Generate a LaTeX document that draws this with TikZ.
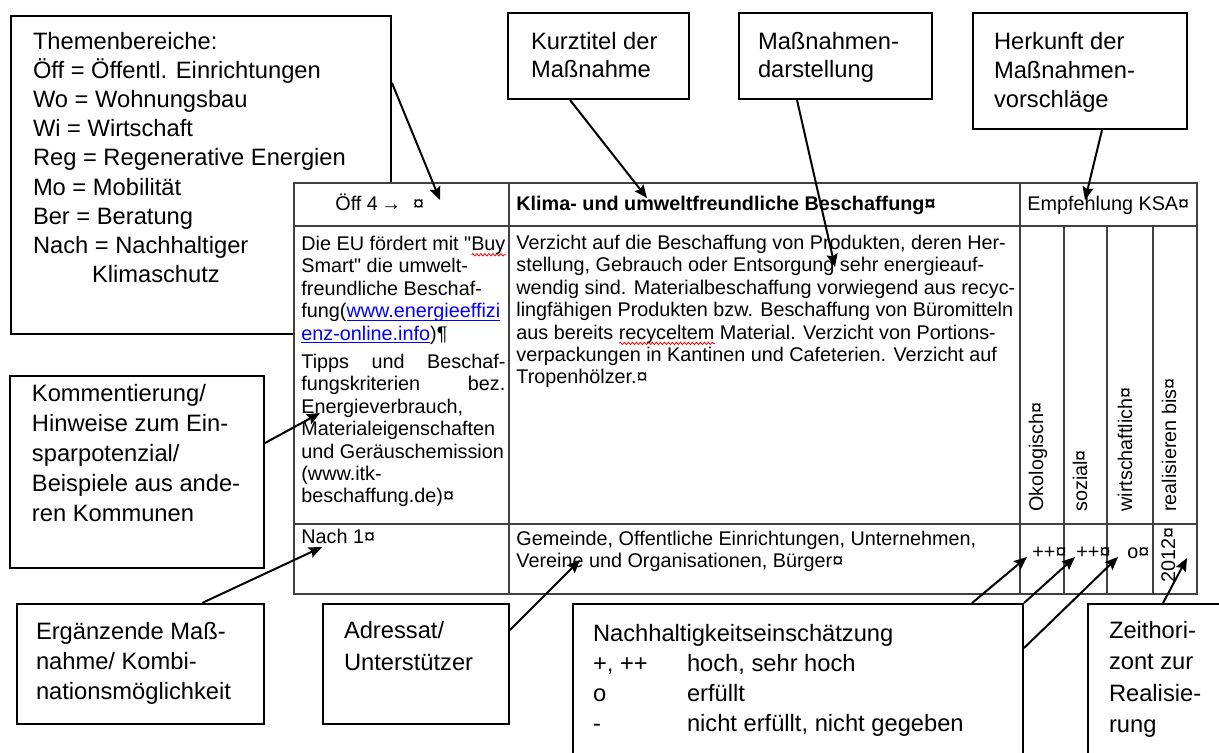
\documentclass[tikz,border=0pt]{standalone}
\usepackage{fontspec}
\setmainfont{Liberation Sans}[Ligatures=TeXOff]
\usetikzlibrary{arrows.meta,positioning,decorations.pathmorphing}
\newsavebox{\wordbox}
\newcommand{\tc}[2]{\textcolor{#1}{#2}}
\newcommand{\tcl}[1]{\sbox\wordbox{#1}\tc{blue}{\rlap{\rule[-1.6pt]{\wd\wordbox}{0.5pt}}#1}}
\newcommand{\redwave}[1]{\sbox\wordbox{#1}\rlap{\tikz[baseline=0pt]\draw[red,line width=0.4pt,decorate,decoration={snake,amplitude=0.6pt,segment length=2pt}] (0pt,-2.2pt) -- (\wd\wordbox,-2.2pt);}#1}
\newcommand{\callfont}[1][14.6]{\fontsize{11.85}{#1}\selectfont}
\newcommand{\cellfont}{\fontsize{9.9}{11.2}\selectfont}
\newcommand{\ctext}[4][16pt]{\parbox[t][#3][t]{#2}{\rule{0pt}{#1}#4}}
\newcommand{\topline}{\rule{0pt}{8pt}}

\begin{document}
\begin{tikzpicture}[x=0.5pt,y=-0.5pt,>={Stealth[length=6.5pt,width=5.5pt,inset=1pt]},
    box/.style = {draw,line width=1pt,fill=white,anchor=north west,inner ysep=0pt,font=\callfont},
    cell/.style = {anchor=base west,inner sep=0pt,align=left,font=\cellfont},
    mcell/.style = {cell,anchor=north west},
    vcell/.style = {cell,rotate=90},
    tline/.style = {draw=black!75,line width=0.7pt}]
    \useasboundingbox (0,0) rectangle (1219,752);

    % legend box, partly hidden by the table
    \node[box,inner xsep=11pt] (themen) at (10,15) {\ctext[16.5pt]{168pt}{159pt}{Themenbereiche:\\ Öff = Öffentl. Einrichtungen\\ Wo = Wohnungsbau\\ Wi = Wirtschaft\\ Reg = Regenerative Energien\\ Mo = Mobilität\\ Ber = Beratung\\ Nach = Nachhaltiger\\ \hspace*{29.5pt}Klimaschutz}};

    % table grid
    \draw[tline,fill=white] (294,183) rectangle (1197,594);
    \draw[tline] (294,226) -- (1197,226) (294,524) -- (1197,524)
        (509,183) -- (509,594) (1020,183) -- (1020,594)
        (1064,226) -- (1064,594) (1107,226) -- (1107,594) (1153,226) -- (1153,594);

    % table cells
    \node[cell] (kuerzel) at (335,210) {Öff 4\,{\bfseries →}\hspace{6pt}¤};
    \node[cell,font=\cellfont\bfseries] (titel) at (516,210) {Klima- und umweltfreundliche Beschaffung¤};
    \node[cell] (empf) at (1027,210) {Empfehlung KSA¤};
    \node[mcell] (hinweis) at (301,234) {\topline Die EU fördert mit "\redwave{Buy}\\ Smart" die umwelt-\\ freundliche Beschaf-\\ fung(\tcl{www.energieeffizi}\\ \tcl{enz-online.info})¶};
    \node[mcell] (tipps) at (301,352) {\topline\hbox to 102pt{Tipps\hfill und\hfill Beschaf-}\\ \hbox to 102pt{fungskriterien\hfill bez.}\\ Energieverbrauch,\\ Materialeigenschaften\\ und Geräuschemission\\ (www.itk-\\ beschaffung.de)¤};
    \node[mcell] (beschr) at (516,233) {\topline Verzicht auf die Beschaffung von Produkten, deren Her-\\ stellung, Gebrauch oder Entsorgung sehr energieauf-\\ wendig sind. Materialbeschaffung vorwiegend aus recyc-\\ lingfähigen Produkten bzw. Beschaffung von Büromitteln\\ aus bereits \redwave{recyceltem} Material. Verzicht von Portions-\\ verpackungen in Kantinen und Cafeterien. Verzicht auf\\ Tropenhölzer.¤};
    \node[cell] (ergz) at (301,543) {Nach 1¤};
    \node[mcell] (zielgr) at (516,529) {\topline Gemeinde, Offentliche Einrichtungen, Unternehmen,\\ Vereine und Organisationen, Bürger¤};
    \node[vcell] (oeko) at (1043,512) {Okologisch¤};
    \node[vcell] (soz) at (1087,512) {sozial¤};
    \node[vcell] (wirt) at (1132,512) {wirtschaftlich¤};
    \node[vcell] (real) at (1176,512) {realisieren bis¤};
    \node[cell] (voeko) at (1032,558) {++¤};
    \node[cell] (vsoz) at (1076,558) {++¤};
    \node[cell] (vwirt) at (1127,558) {o¤};
    \node[vcell] (jahr) at (1175,583) {2012¤};

    % callouts
    \node[box,inner xsep=11.5pt,font={\callfont[14]}] (kurz) at (507,12) {\ctext[18pt]{67.5pt}{43pt}{Kurztitel der\\ Maßnahme}};
    \node[box,inner xsep=9.5pt,font={\callfont[14]}] (massn) at (738,12) {\ctext[18pt]{77.5pt}{43pt}{Maßnahmen-\\ darstellung}};
    \node[box,inner xsep=10.5pt,font={\callfont[14.5]}] (herk) at (972,12) {\ctext[18pt]{86pt}{58pt}{Herkunft der\\ Maßnahmen-\\ vorschläge}};
    \node[box,inner xsep=11pt,font={\callfont[15]}] (komm) at (9,375) {\ctext[12.5pt]{105pt}{96pt}{Kommentierung/\\ Hinweise zum Ein-\\ sparpotenzial/\\ Beispiele aus ande-\\ ren Kommunen}};
    \node[box,inner xsep=9.5pt,font={\callfont[15]}] (ergaenz) at (16,603) {\ctext[17.5pt]{104.5pt}{60pt}{Ergänzende Maß-\\ nahme/ Kombi-\\ nationsmöglichkeit}};
    \node[box,inner xsep=10.5pt,font={\callfont[16]}] (adressat) at (322,603) {\ctext[17pt]{72pt}{60pt}{Adressat/\\ Unterstützer}};
    \node[box,inner xsep=10pt,font={\callfont[15]}] (nachh) at (572,603) {\ctext[18.5pt]{205pt}{85pt}{Nachhaltigkeitseinschätzung\\ \makebox[47pt][l]{+, ++}hoch, sehr hoch\\ \makebox[47pt][l]{o}erfüllt\\ \makebox[47pt][l]{-}nicht erfüllt, nicht gegeben}};
    \node[box,inner xsep=10.5pt,font={\callfont[15.75]}] (zeit) at (1087,603) {\ctext[17pt]{59pt}{85pt}{Zeithori-\\ zont zur\\ Realisie-\\ rung}};

    % arrow targets
    \coordinate (pthemen) at (440,200);
    \coordinate (pkurz) at (647,198);
    \coordinate (pmassn) at (835,267);
    \coordinate (pherk) at (1085,200);
    \coordinate (pkomm) at (320,413);
    \coordinate (pergaenz) at (322,547);
    \coordinate (padressat) at (580,560);
    \coordinate (poeko) at (1027,557);
    \coordinate (psoz) at (1075,557);
    \coordinate (pwirt) at (1118,557);
    \coordinate (pzeit) at (1187,558);

    \path[->,line width=1pt] ([yshift=-34pt]themen.north east) edge (pthemen)
        ([xshift=-14.25pt]kurz.south) edge (pkurz)
        ([xshift=-19.25pt]massn.south) edge (pmassn)
        ([xshift=11pt]herk.south) edge (pherk)
        ([yshift=-34pt]komm.north east) edge (pkomm)
        ([xshift=93pt]ergaenz.north west) edge (pergaenz)
        ([yshift=-13.5pt]adressat.north east) edge (padressat)
        ([xshift=200pt]nachh.north west) edge (poeko)
        (nachh.north east) edge (psoz)
        ([yshift=-22.5pt]nachh.north east) edge (pwirt)
        ([xshift=38pt]zeit.north west) edge (pzeit);
\end{tikzpicture}
\end{document}
